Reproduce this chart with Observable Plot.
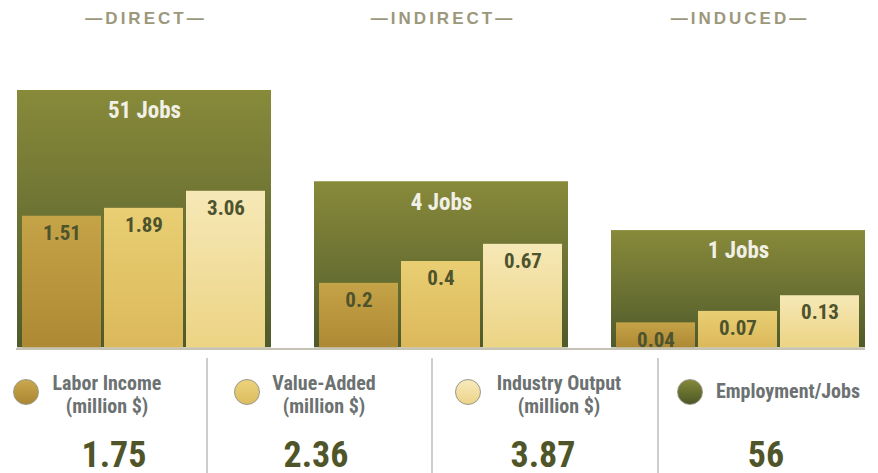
<!DOCTYPE html>
<html>
<head>
<meta charset="utf-8">
<script src="https://cdn.jsdelivr.net/npm/d3@7"></script>
<script src="https://cdn.jsdelivr.net/npm/@observablehq/plot@0.6"></script>
<style>
  body { margin: 0; background: #fff; }
  #wrap { position: relative; width: 878px; height: 473px; overflow: hidden;
          font-family: "Liberation Sans Narrow", "Roboto Condensed", "DejaVu Sans Condensed", sans-serif; }
  #chart svg { display: block; }
  #legend { position: absolute; left: 0; top: 348px; width: 878px; height: 125px; }
  .rule { position: absolute; left: 16px; top: 0; width: 849px; height: 1.5px; background: #c6c3b4; }
  .divider { position: absolute; top: 10px; bottom: 0; width: 1.5px; background: #cdcdcd; }
  .dot { position: absolute; width: 24px; height: 24px; border-radius: 50%; border: 1px solid #98968a; top: 31px; }
  .lab { position: absolute; width: 220px; text-align: center; font-weight: bold; font-size: 20px;
         line-height: 23px; color: #6c7171; }
  .num { position: absolute; width: 200px; text-align: center; font-weight: bold; font-size: 36px;
         line-height: 30px; color: #4f5528; top: 92px; }
</style>
</head>
<body>
<div id="wrap"><div id="chart"></div><div id="legend"></div></div>
<script>
// ---- data ----
const groups = ["Direct", "Indirect", "Induced"];
const headers = ["DIRECT", "INDIRECT", "INDUCED"];
const metrics = ["Labor Income", "Value-Added", "Industry Output"];
const laborIncome = [1.51, 0.2, 0.04];
const valueAdded = [1.89, 0.4, 0.07];
const industryOutput = [3.06, 0.67, 0.13];
const jobs = [51, 4, 1];
const legendNames = [["Labor Income", "(million $)"], ["Value-Added", "(million $)"], ["Industry Output", "(million $)"], ["Employment/Jobs"]];
const totals = ["1.75", "2.36", "3.87", "56"];

// ---- derived tables ----
const series = [laborIncome, valueAdded, industryOutput];
const bars = groups.flatMap((g, i) => metrics.map((m, j) => ({group: g, metric: m, value: series[j][i]})));
const jobRows = groups.map((g, i) => ({group: g, jobs: jobs[i], header: headers[i]}));

const fontFamily = '"Liberation Sans Narrow", "Roboto Condensed", "DejaVu Sans Condensed", sans-serif';
const headerFont = '"Liberation Sans", Arial, sans-serif';
const gradIds = ["gLabor", "gValue", "gOutput"];

const plot = Plot.plot({
  width: 878,
  height: 348,
  marginLeft: 16,
  marginRight: 13,
  marginTop: 90,
  marginBottom: 0.7,
  style: {fontFamily, background: "transparent", overflow: "hidden"},
  fx: {domain: groups, paddingInner: 0.146, paddingOuter: 0, axis: null, label: null},
  x: {domain: metrics, insetLeft: 4, insetRight: 4, paddingInner: 0.036, paddingOuter: 0, axis: null, label: null},
  y: {type: "symlog", constant: 0.04, domain: [0, 51], axis: null, label: null},
  marks: [
    Plot.barY(jobRows, {fx: "group", y: "jobs", fill: "url(#gOlive)"}),
    Plot.text(jobRows, {fx: "group", y: "jobs", text: d => `${d.jobs} Jobs`, dy: 20.5,
      fill: "#f1f0e6", fontSize: 23, fontWeight: "bold"}),
    Plot.text(jobRows, {fx: "group", text: d => `—${d.header}—`, frameAnchor: "top", dy: -79,
      fill: "#9c987c", fontSize: 17, fontWeight: "bold", fontFamily: headerFont}),
    ...metrics.map((m, j) => Plot.barY(bars.filter(d => d.metric === m),
      {fx: "group", x: "metric", y: "value", fill: `url(#${gradIds[j]})`})),
    Plot.text(bars, {fx: "group", x: "metric", y: "value", text: d => String(d.value), dy: 17,
      fill: "#4d532c", fontSize: 21, fontWeight: "bold"})
  ]
});

// header styling: letter-spaced caps
d3.select(plot).selectAll("text")
  .filter(function() { return this.textContent.startsWith("—"); })
  .style("letter-spacing", "3px")
  .attr("dx", 1.5);

// gradients
const defs = d3.select(plot).insert("defs", ":first-child");
const grads = [
  ["gOlive", "#888a3a", "#4f5a2b"],
  ["gLabor", "#c5a347", "#ae8934"],
  ["gValue", "#e9ce73", "#dbb95b"],
  ["gOutput", "#f6e8b7", "#ecd484"]
];
for (const [id, c0, c1] of grads) {
  const lg = defs.append("linearGradient").attr("id", id).attr("x1", 0).attr("y1", 0).attr("x2", 0).attr("y2", 1);
  lg.append("stop").attr("offset", "0%").attr("stop-color", c0);
  lg.append("stop").attr("offset", "100%").attr("stop-color", c1);
}
document.getElementById("chart").appendChild(plot);

// ---- legend (HTML below the SVG) ----
const legend = d3.select("#legend");
legend.append("div").attr("class", "rule");
const dividerX = [206, 431, 657];
dividerX.forEach(x => legend.append("div").attr("class", "divider").style("left", x + "px"));
const dotFill = [
  "linear-gradient(#caa84c, #ab8632)",
  "linear-gradient(#ecd37c, #dcbc60)",
  "linear-gradient(#f7ebbd, #ecd387)",
  "linear-gradient(#838838, #4c5726)"
];
const dotCx = [26, 247, 468, 690];
const labCx = [107, 324, 559, 788];
const numCx = [114, 316, 543, 766];
legendNames.forEach((lines, i) => {
  legend.append("div").attr("class", "dot").style("left", (dotCx[i] - 13) + "px").style("background", dotFill[i]);
  const lab = legend.append("div").attr("class", "lab")
    .style("left", (labCx[i] - 110) + "px")
    .style("top", (lines.length > 1 ? 24 : 32) + "px");
  lab.html(lines.join("<br>"));
  legend.append("div").attr("class", "num").style("left", (numCx[i] - 100) + "px").text(totals[i]);
});
</script>
</body>
</html>
